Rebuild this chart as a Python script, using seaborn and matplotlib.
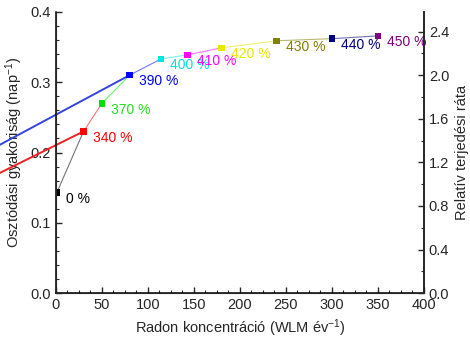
import matplotlib
matplotlib.use("Agg")
import matplotlib.pyplot as plt
import numpy as np
import pandas as pd
import seaborn as sns
from matplotlib.ticker import MultipleLocator

# --------------------------------------------------------------------------- #
# Data
# --------------------------------------------------------------------------- #
radon = [1, 30, 50, 80, 114, 143, 180, 240, 300, 350]
division_rate = [0.143, 0.230, 0.270, 0.310, 0.333, 0.339, 0.349, 0.359, 0.362, 0.366]
labels = ["0 %", "340 %", "370 %", "390 %", "400 %", "410 %", "420 %", "430 %", "440 %", "450 %"]
colors = ["#000000", "#ff0000", "#00e000", "#0000ff", "#00e5e5",
          "#ff00ff", "#e8e800", "#808000", "#000080", "#800080"]
text_colors = ["#000000", "#ff0000", "#22dd22", "#0000ff", "#00e0e0",
               "#ff00ff", "#e8e800", "#808000", "#000080", "#800080"]

# two extrapolated lines running off the left edge
red_line_x = [-61, 30]
red_line_y = [0.171, 0.230]
blue_line_x = [-61, 80]
blue_line_y = [0.211, 0.310]

df = pd.DataFrame({"radon": radon, "rate": division_rate, "label": labels})

sns.set_style("ticks")
plt.rcParams["font.family"] = ["Liberation Sans", "DejaVu Sans"]
plt.rcParams["mathtext.fontset"] = "custom"
plt.rcParams["mathtext.rm"] = "Liberation Sans"
plt.rcParams["mathtext.it"] = "Liberation Sans"
plt.rcParams["mathtext.default"] = "regular"
plt.rcParams["xtick.direction"] = "in"
plt.rcParams["ytick.direction"] = "in"

fig = plt.figure(figsize=(4.7, 3.42), dpi=100)
ax = fig.add_axes([0.119, 0.143, 0.783, 0.822])

# thin connecting segments, coloured by their starting point
for i in range(len(radon) - 1):
    seg = df.iloc[i:i + 2]
    sns.lineplot(data=seg, x="radon", y="rate", ax=ax, color=colors[i],
                 linewidth=0.8, alpha=0.55, sort=False)

ax.plot(red_line_x, red_line_y, color="#ee2222", linewidth=1.4, clip_on=False)
ax.plot(blue_line_x, blue_line_y, color="#3344dd", linewidth=1.4, clip_on=False)

sns.scatterplot(data=df, x="radon", y="rate", hue="label", palette=colors,
                marker="s", s=22, linewidth=0, legend=False, ax=ax, zorder=5)

for xv, yv, lab, c in zip(radon, division_rate, labels, text_colors):
    ax.annotate(lab, (xv, yv), xytext=(6.5, -4.5), textcoords="offset points",
                ha="left", va="center", color=c, fontsize=10)

ax.set_xlim(0, 400)
ax.set_ylim(0, 0.4)
ax.xaxis.set_major_locator(MultipleLocator(50))
ax.xaxis.set_minor_locator(MultipleLocator(12.5))
ax.yaxis.set_major_locator(MultipleLocator(0.1))
ax.yaxis.set_minor_locator(MultipleLocator(0.02))
ax.tick_params(which="major", length=4, width=1, labelsize=10.5)
ax.tick_params(which="minor", length=2, width=0.8)
ax.set_xlabel("Radon koncentráció (WLM év$^{-1}$)", fontsize=10.5)
ax.set_ylabel("Osztódási gyakoriság (nap$^{-1}$)", fontsize=10.5)
ax.spines["top"].set_visible(False)
for s in ["left", "bottom", "right"]:
    ax.spines[s].set_linewidth(1.1)
    ax.spines[s].set_color("black")

ax2 = ax.twinx()
ax2.set_ylim(0, 2.58)
ax2.yaxis.set_major_locator(MultipleLocator(0.4))
ax2.yaxis.set_minor_locator(MultipleLocator(0.2))
ax2.yaxis.set_major_formatter(matplotlib.ticker.FormatStrFormatter("%.1f"))
ax2.tick_params(which="major", length=4, width=1, labelsize=10.5, direction="in")
ax2.tick_params(which="minor", length=2, width=0.8, direction="in")
ax2.set_ylabel("Relatív terjedési ráta", fontsize=10.5)
ax2.spines["top"].set_visible(False)
ax2.spines["right"].set_linewidth(1.1)

fig.savefig("out.png", dpi=100)
plt.close(fig)
